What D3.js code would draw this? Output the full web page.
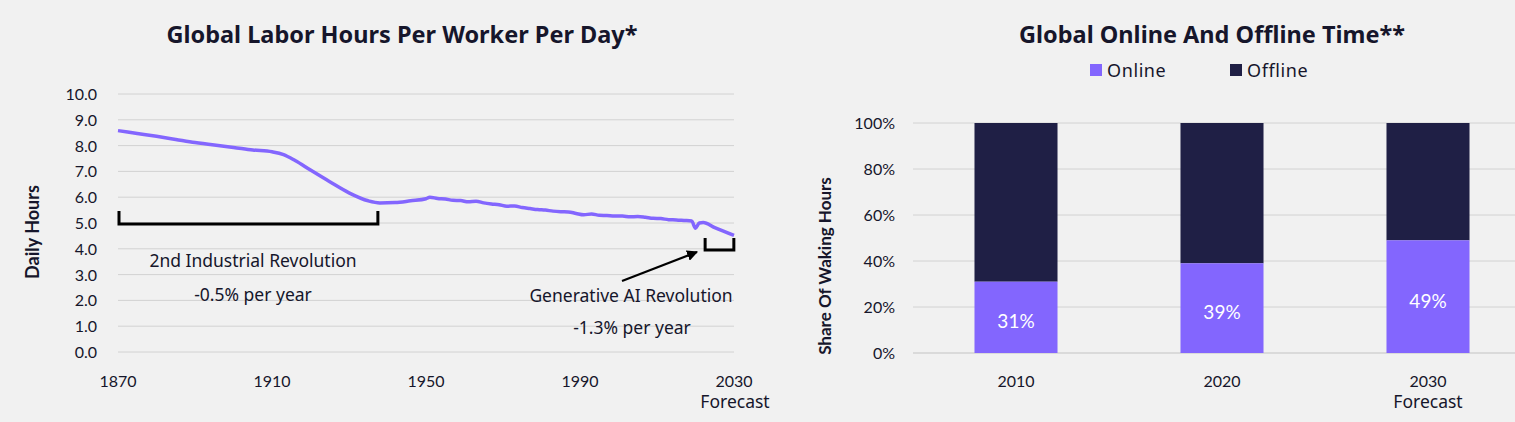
<!DOCTYPE html>
<html>
<head>
<meta charset="utf-8">
<script src="https://cdn.jsdelivr.net/npm/d3@7"></script>
<style>
  body { margin: 0; background: #f1f1f1; }
  svg { display: block; font-family: Lato, "Noto Sans", sans-serif; }
  .w { font-family: "Noto Sans", Lato, sans-serif; }
</style>
</head>
<body>
<svg id="chart" width="1515" height="422"></svg>
<script>
// left chart: labor hours per worker per day
var hourYears = [1870,1875,1880,1885,1890,1895,1900,1905,1910,1913,1916,1920,1925,1930,1935,1938,1942,1946,1950,1951,1953,1955,1957,1959,1961,1963,1965,1967,1969,1971,1973,1975,1977,1979,1981,1983,1985,1987,1989,1991,1993,1995,1997,1999,2001,2003,2005,2007,2009,2011,2013,2015,2017,2019,2020,2021,2022,2025,2030];
var hourValues = [8.58,8.47,8.36,8.24,8.12,8.02,7.93,7.83,7.76,7.65,7.42,7.05,6.6,6.17,5.86,5.78,5.79,5.86,5.94,6.0,5.95,5.93,5.88,5.87,5.82,5.84,5.78,5.74,5.71,5.65,5.66,5.6,5.56,5.52,5.5,5.46,5.44,5.43,5.37,5.32,5.35,5.3,5.29,5.27,5.27,5.24,5.25,5.22,5.18,5.17,5.13,5.12,5.1,5.08,4.8,5.0,5.02,4.82,4.52];
var hourTicks = [0,1,2,3,4,5,6,7,8,9,10];
var yearTicks = [1870,1910,1950,1990,2030];

// right chart: online vs offline share
var shareYears = ["2010","2020","2030"];
var onlineShare = [31,39,49];
var offlineShare = [69,61,51];
var shareTicks = [0,20,40,60,80,100];

var textCol = "#16162b", gridCol = "#d2d2d2";
var purple = "#8366fe", navy = "#1f1f45";

var svg = d3.select("#chart");

// ---------- left ----------
var x = d3.scaleLinear().domain([1870,2030]).range([118,734]);
var y = d3.scaleLinear().domain([0,10]).range([352,94]);

svg.append("text").attr("class","w").attr("x",402).attr("y",43).attr("text-anchor","middle")
  .attr("font-size",23.5).attr("font-weight",700).attr("fill",textCol)
  .text("Global Labor Hours Per Worker Per Day*");

svg.append("g").selectAll("line").data(hourTicks).enter().append("line")
  .attr("x1",118).attr("x2",734)
  .attr("y1",function(d){ return y(d); }).attr("y2",function(d){ return y(d); })
  .attr("stroke",gridCol).attr("stroke-width",1);

svg.append("g").selectAll("text").data(hourTicks).enter().append("text")
  .attr("x",97).attr("y",function(d){ return y(d)+6; })
  .attr("text-anchor","end").attr("font-size",16).attr("fill",textCol)
  .text(function(d){ return d3.format(".1f")(d); });

svg.append("g").selectAll("text").data(yearTicks).enter().append("text")
  .attr("x",function(d){ return x(d); }).attr("y",387)
  .attr("text-anchor","middle").attr("font-size",16).attr("fill",textCol)
  .text(function(d){ return d; });
svg.append("text").attr("class","w").attr("x",x(2030)+1).attr("y",408).attr("text-anchor","middle")
  .attr("font-size",17.5).attr("fill",textCol).text("Forecast");

svg.append("text").attr("transform","translate(39,232) rotate(-90)")
  .attr("text-anchor","middle").attr("font-size",18).attr("font-weight",700)
  .attr("fill",textCol).text("Daily Hours");

var line = d3.line()
  .x(function(d,i){ return x(hourYears[i]); })
  .y(function(d){ return y(d); })
  .curve(d3.curveMonotoneX);
svg.append("path").datum(hourValues).attr("d",line)
  .attr("fill","none").attr("stroke",purple).attr("stroke-width",3.5)
  .attr("stroke-linejoin","round");

// brackets
function bracket(x0,x1,yTop,yBot){
  svg.append("path")
    .attr("d","M"+x0+","+yTop+"V"+yBot+"H"+x1+"V"+yTop)
    .attr("fill","none").attr("stroke","#000").attr("stroke-width",3);
}
bracket(x(1870)+1,x(1937.5),211,224);
bracket(x(2022.5),x(2029.7)+1,238,250);

svg.append("defs").append("marker").attr("id","arr")
  .attr("viewBox","0 0 10 10").attr("refX",9).attr("refY",5)
  .attr("markerWidth",5).attr("markerHeight",5).attr("orient","auto")
  .append("path").attr("d","M0,0L10,5L0,10z").attr("fill","#000");
svg.append("line").attr("x1",622).attr("y1",281).attr("x2",697).attr("y2",252)
  .attr("stroke","#000").attr("stroke-width",2.2).attr("marker-end","url(#arr)");

var notes = [
  {t:"2nd Industrial Revolution", x:253, y:267},
  {t:"-0.5% per year", x:253, y:301},
  {t:"Generative AI Revolution", x:631, y:302},
  {t:"-1.3% per year", x:632, y:334}
];
svg.append("g").selectAll("text").data(notes).enter().append("text").attr("class","w")
  .attr("x",function(d){ return d.x; }).attr("y",function(d){ return d.y; })
  .attr("text-anchor","middle").attr("font-size",17.5).attr("fill",textCol)
  .text(function(d){ return d.t; });

// ---------- right ----------
var xb = d3.scaleBand().domain(shareYears).range([913,1531]).paddingInner(0.597).paddingOuter(0.2985);
var yb = d3.scaleLinear().domain([0,100]).range([353,123]);

svg.append("text").attr("class","w").attr("x",1212).attr("y",43).attr("text-anchor","middle")
  .attr("font-size",23.5).attr("font-weight",700).attr("fill",textCol)
  .text("Global Online And Offline Time**");

var legend = [{t:"Online", c:purple, x:1090},{t:"Offline", c:navy, x:1230}];
var lg = svg.append("g").selectAll("g").data(legend).enter().append("g");
lg.append("rect").attr("x",function(d){ return d.x; }).attr("y",64).attr("width",12).attr("height",12)
  .attr("fill",function(d){ return d.c; });
lg.append("text").attr("class","w").attr("x",function(d){ return d.x+17; }).attr("y",77)
  .attr("font-size",18).attr("letter-spacing",0.6).attr("fill",textCol).text(function(d){ return d.t; });

svg.append("g").selectAll("line").data(shareTicks).enter().append("line")
  .attr("x1",913).attr("x2",1515)
  .attr("y1",function(d){ return yb(d); }).attr("y2",function(d){ return yb(d); })
  .attr("stroke",gridCol).attr("stroke-width",function(d){ return d===0 ? 1.5 : 1; });

svg.append("g").selectAll("text").data(shareTicks).enter().append("text")
  .attr("x",895).attr("y",function(d){ return yb(d)+6; })
  .attr("text-anchor","end").attr("font-size",16).attr("fill",textCol)
  .text(function(d){ return d+"%"; });

svg.append("text").attr("transform","translate(831,266) rotate(-90)")
  .attr("text-anchor","middle").attr("font-size",17).attr("font-weight",700)
  .attr("fill",textCol).text("Share Of Waking Hours");

svg.append("g").selectAll("rect").data(shareYears).enter().append("rect")
  .attr("x",function(d){ return xb(d); }).attr("width",xb.bandwidth())
  .attr("y",function(d,i){ return yb(onlineShare[i]+offlineShare[i]); })
  .attr("height",function(d,i){ return yb(onlineShare[i]) - yb(onlineShare[i]+offlineShare[i]); })
  .attr("fill",navy);
svg.append("g").selectAll("rect").data(shareYears).enter().append("rect")
  .attr("x",function(d){ return xb(d); }).attr("width",xb.bandwidth())
  .attr("y",function(d,i){ return yb(onlineShare[i]); })
  .attr("height",function(d,i){ return yb(0) - yb(onlineShare[i]); })
  .attr("fill",purple);
svg.append("g").selectAll("text").data(shareYears).enter().append("text")
  .attr("x",function(d){ return xb(d)+xb.bandwidth()/2; })
  .attr("y",function(d,i){ return (yb(0)+yb(onlineShare[i]))/2+11; })
  .attr("text-anchor","middle").attr("font-size",19).attr("fill","#fff")
  .text(function(d,i){ return onlineShare[i]+"%"; });

svg.append("g").selectAll("text").data(shareYears).enter().append("text")
  .attr("x",function(d){ return xb(d)+xb.bandwidth()/2; }).attr("y",387)
  .attr("text-anchor","middle").attr("font-size",16).attr("fill",textCol)
  .text(function(d){ return d; });
svg.append("text").attr("class","w").attr("x",xb("2030")+xb.bandwidth()/2).attr("y",408).attr("text-anchor","middle")
  .attr("font-size",17.5).attr("fill",textCol).text("Forecast");
</script>
</body>
</html>
